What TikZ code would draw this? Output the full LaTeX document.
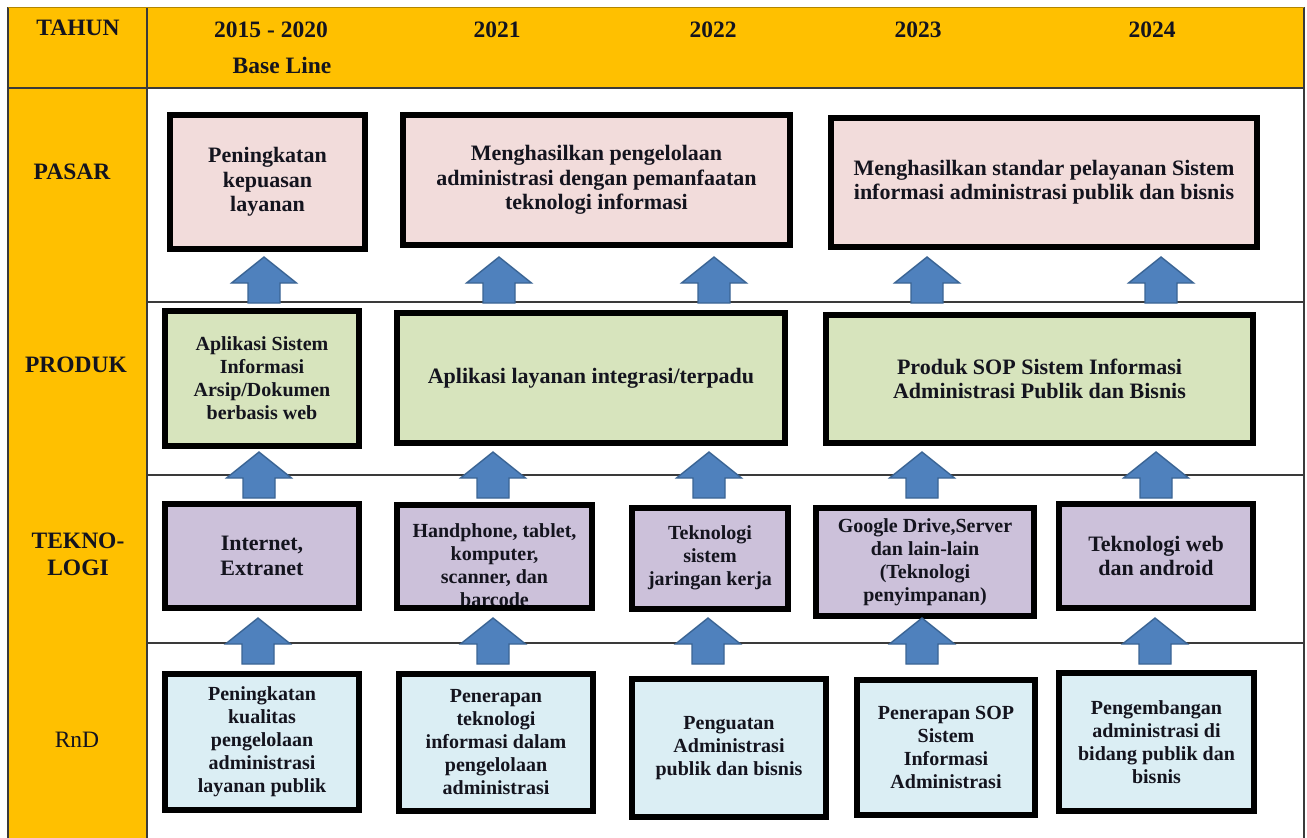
\documentclass[tikz,border=0pt]{standalone}
\usepackage{fontspec}
\setmainfont{Liberation Serif}
\definecolor{headyellow}{HTML}{FFC000}
\definecolor{pasarfill}{HTML}{F2DCDB}
\definecolor{produkfill}{HTML}{D7E4BD}
\definecolor{teknofill}{HTML}{CCC1DA}
\definecolor{rndfill}{HTML}{DBEEF4}
\definecolor{arrowfill}{HTML}{4F81BD}
\definecolor{arrowline}{HTML}{3A6494}
\definecolor{gridline}{HTML}{3A3A3A}
\definecolor{ink}{HTML}{14141E}
\tikzset{
  gridrule/.style={draw=gridline, line width=1.6pt},
  hdr/.style={font=\bfseries\fontsize{23.5}{27}\selectfont, text=ink, inner sep=0pt},
  bx/.style={draw=black, line width=6pt, inner sep=0pt, align=center, text=ink,
    font=\bfseries\fontsize{20}{23}\selectfont},
  bigtext/.style={font=\bfseries\fontsize{22}{24.5}\selectfont},
  pasarbox/.style={bx, fill=pasarfill, bigtext},
  produkbox/.style={bx, fill=produkfill},
  teknobox/.style={bx, fill=teknofill},
  rndbox/.style={bx, fill=rndfill},
  barrow/.style={fill=arrowfill, draw=arrowline, line width=1.4pt, line join=miter},
}
% upward block arrow standing on a named coordinate (bottom centre of the shaft)
\newcommand\bluearrow[1]{%
  \filldraw[barrow] (#1) ++(-16,0) -- ++(0,-20) -- ++(-16.5,0) -- ++(32.5,-26)
    -- ++(32.5,26) -- ++(-16.5,0) -- ++(0,20) -- cycle;}
\begin{document}
\begin{tikzpicture}[x=1pt,y=-1pt]
\useasboundingbox (0,0) rectangle (1307,838);

% header band and row-label column
\fill[headyellow] (8,7) rectangle (1304,88);
\fill[headyellow] (8,88) rectangle (147,838);

% table rules
\draw[gridrule] (8,7) -- (8,838);
\draw[gridrule] (147,7) -- (147,838);
\draw[gridrule] (1304,7) -- (1304,838);
\draw[draw=headyellow!70!black, line width=0.6pt] (8,7) -- (1304,7);
\draw[gridrule] (8,88) -- (1304,88);
\draw[gridrule] (147,302) -- (1304,302);
\draw[gridrule] (147,475) -- (1304,475);
\draw[gridrule] (147,643) -- (1304,643);

% header texts
\node[hdr] (tahun) at (78,28) {TAHUN};
\node[hdr] (y1) at (271,30) {2015 - 2020};
\node[hdr] (base) at (282,65) {Base Line};
\node[hdr] (y2) at (497,30) {2021};
\node[hdr] (y3) at (713,30) {2022};
\node[hdr] (y4) at (918,30) {2023};
\node[hdr] (y5) at (1152,30) {2024};

% row labels
\node[hdr] (lpasar) at (72,172) {PASAR};
\node[hdr] (lproduk) at (76,365) {PRODUK};
\node[hdr, align=center, font=\bfseries\fontsize{23.5}{27}\selectfont] (ltekno) at (78,554) {TEKNO-\\LOGI};
\node[hdr, font=\fontsize{23.5}{27}\selectfont] (lrnd) at (77,740) {RnD};

% PASAR
\node[pasarbox, minimum width=195, minimum height=134] (p1) at (267.5,182)
  {Peningkatan\\kepuasan\\layanan};
\node[pasarbox, minimum width=387, minimum height=130] (p2) at (596.5,180)
  {Menghasilkan pengelolaan\\administrasi dengan pemanfaatan\\teknologi informasi};
\node[pasarbox, minimum width=426, minimum height=129] (p3) at (1044,182)
  {Menghasilkan standar pelayanan Sistem\\informasi administrasi publik dan bisnis};

% PRODUK
\node[produkbox, minimum width=194, minimum height=135] (pr1) at (262,378.5)
  {Aplikasi Sistem\\Informasi\\Arsip/Dokumen\\berbasis web};
\node[produkbox, bigtext, minimum width=388, minimum height=130] (pr2) at (591,378)
  {Aplikasi layanan integrasi/terpadu};
\node[produkbox, bigtext, minimum width=427, minimum height=128] (pr3) at (1039.5,379)
  {Produk SOP Sistem Informasi\\Administrasi Publik dan Bisnis};

% TEKNOLOGI
\node[teknobox, bigtext, minimum width=194, minimum height=104] (t1) at (262,556)
  {Internet,\\Extranet};
% the last line of this box runs past its lower edge and is cut by it
\node[teknobox, minimum width=195, minimum height=103,
  path picture={\node[align=center, text=ink, inner sep=0pt,
    font=\bfseries\fontsize{20}{23}\selectfont]
    at ([yshift=-9pt]path picture bounding box.center)
    {Handphone, tablet,\\komputer,\\scanner, dan\\barcode};}] (t2) at (494.5,556.5) {};
\node[teknobox, minimum width=156, minimum height=101] (t3) at (710,558)
  {Teknologi\\sistem\\jaringan kerja};
\node[teknobox, minimum width=218, minimum height=108] (t4) at (925,562)
  {Google Drive,Server\\dan lain-lain\\(Teknologi\\penyimpanan)};
\node[teknobox, bigtext, minimum width=194, minimum height=104] (t5) at (1156,556)
  {Teknologi web\\dan android};

% RnD
\node[rndbox, minimum width=194, minimum height=136] (r1) at (262,742)
  {Peningkatan\\kualitas\\pengelolaan\\administrasi\\layanan publik};
\node[rndbox, minimum width=194, minimum height=137] (r2) at (496,742.5)
  {Penerapan\\teknologi\\informasi dalam\\pengelolaan\\administrasi};
\node[rndbox, minimum width=194, minimum height=138] (r3) at (729,748)
  {Penguatan\\Administrasi\\publik dan bisnis};
\node[rndbox, minimum width=178, minimum height=135] (r4) at (946,747)
  {Penerapan SOP\\Sistem\\Informasi\\Administrasi};
\node[rndbox, minimum width=195, minimum height=138] (r5) at (1156.5,742)
  {Pengembangan\\administrasi di\\bidang publik dan\\bisnis};

% block arrows: RnD -> Teknologi -> Produk -> Pasar
\coordinate (a11) at (264,303);  \coordinate (a12) at (499,303);
\coordinate (a13) at (714,303);  \coordinate (a14) at (927,303);
\coordinate (a15) at (1161,303);
\coordinate (a21) at (259,498);  \coordinate (a22) at (493,498);
\coordinate (a23) at (709,498);  \coordinate (a24) at (922,498);
\coordinate (a25) at (1156,498);
\coordinate (a31) at (258,664);  \coordinate (a32) at (493,664);
\coordinate (a33) at (708,664);  \coordinate (a34) at (922,664);
\coordinate (a35) at (1155,664);
\foreach \a in {a11,a12,a13,a14,a15,a21,a22,a23,a24,a25,a31,a32,a33,a34,a35}
  {\bluearrow{\a}}
\end{tikzpicture}
\end{document}
